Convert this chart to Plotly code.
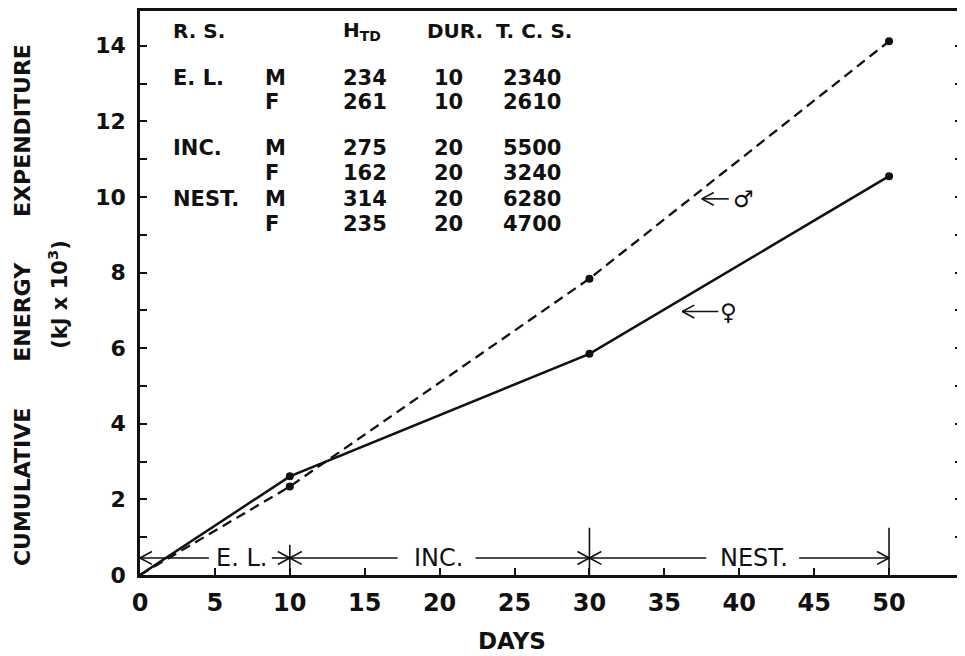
import plotly.graph_objects as go

# ---------------- data ----------------
days = [0, 10, 30, 50]
male_cum = [0, 2.34, 7.84, 14.12]      # kJ x 10^3
female_cum = [0, 2.61, 5.85, 10.55]

phase_bounds = [0, 10, 30, 50]
phase_labels = ["E. L.", "INC.", "NEST."]

table_header = ["R. S.", "", "H<sub>TD</sub>", "DUR.", "T. C. S."]
table_stage = ["E. L.", "", "INC.", "", "NEST.", ""]
table_sex = ["M", "F", "M", "F", "M", "F"]
table_htd = ["234", "261", "275", "162", "314", "235"]
table_dur = ["10", "10", "20", "20", "20", "20"]
table_tcs = ["2340", "2610", "5500", "3240", "6280", "4700"]

x_ticks = [0, 5, 10, 15, 20, 25, 30, 35, 40, 45, 50]
y_ticks = [0, 2, 4, 6, 8, 10, 12, 14]

# ---------------- layout constants ----------------
FONT = "DejaVu Sans"
BLACK = "#111111"
phase_y = 0.45
phase_label_x = [6.8, 19.9, 41.0]
phase_label_halfw = [1.9, 2.4, 2.9]
head_dx, head_dy = 0.8, 0.17

fig = go.Figure()

fig.add_trace(go.Scatter(x=days, y=male_cum, mode="lines",
                         line=dict(color=BLACK, width=2.3, dash="10px,6px"),
                         showlegend=False, hoverinfo="skip"))
fig.add_trace(go.Scatter(x=days, y=female_cum, mode="lines",
                         line=dict(color=BLACK, width=2.5),
                         showlegend=False, hoverinfo="skip"))
fig.add_trace(go.Scatter(x=days[1:] + days[1:], y=male_cum[1:] + female_cum[1:],
                         mode="markers", marker=dict(color=BLACK, size=8),
                         showlegend=False, hoverinfo="skip"))

# phase arrows
px, py = [], []
def seg(x0, x1):
    px.extend([x0, x1, None]); py.extend([phase_y, phase_y, None])
def head(xt, direction):
    xb = xt - direction * head_dx
    px.extend([xb, xt, xb, None]); py.extend([phase_y + head_dy, phase_y, phase_y - head_dy, None])

for i in range(len(phase_labels)):
    a, b = phase_bounds[i], phase_bounds[i + 1]
    lx, hw = phase_label_x[i], phase_label_halfw[i]
    seg(a, lx - hw - 0.3)
    head(a, -1)
    seg(lx + hw + 0.1, b)
    head(b, +1)
    fig.add_annotation(x=lx, y=phase_y, text=phase_labels[i], showarrow=False,
                       font=dict(family=FONT, size=24, color=BLACK), xref="x", yref="y")
fig.add_trace(go.Scatter(x=px, y=py, mode="lines", line=dict(color=BLACK, width=1.6),
                         showlegend=False, hoverinfo="skip"))
vx, vy = [], []
vx += [phase_bounds[1], phase_bounds[1], None]; vy += [0.1, 0.8, None]
for b in phase_bounds[2:]:
    vx += [b, b, None]; vy += [0, 1.25, None]
fig.add_trace(go.Scatter(x=vx, y=vy, mode="lines", line=dict(color=BLACK, width=1.6),
                         showlegend=False, hoverinfo="skip"))

# sex labels with arrows
sex_labels = [("♂", 37.5, 39.3, 40.3, 9.95), ("♀", 36.2, 38.6, 39.3, 6.97)]
sx, sy = [], []
for sym, xh, xe, xs, yy in sex_labels:
    sx += [xh, xe, None, xh + head_dx, xh, xh + head_dx, None]
    sy += [yy, yy, None, yy + head_dy, yy, yy - head_dy, None]
    fig.add_annotation(x=xs, y=yy, text=sym, showarrow=False,
                       font=dict(family=FONT, size=23, color=BLACK, weight="bold"))
fig.add_trace(go.Scatter(x=sx, y=sy, mode="lines", line=dict(color=BLACK, width=1.6),
                         showlegend=False, hoverinfo="skip"))

# table
col_x = [2.05, 8.2, 13.4, 19.0, 23.6]
num_x = [None, 8.2, 13.4, 19.5, 24.1]
row_y = [13.16, 12.5, 11.29, 10.63, 9.95, 9.29]
header_y = 14.39
tfont = dict(family=FONT, size=21, color=BLACK, weight="bold")
hfont = dict(family=FONT, size=20, color=BLACK, weight="bold")
for j, h in enumerate(table_header):
    if h:
        fig.add_annotation(x=col_x[j], y=header_y, text=h, showarrow=False,
                           xanchor="left", font=hfont)
for i in range(len(table_sex)):
    vals = [table_stage[i], table_sex[i], table_htd[i], table_dur[i], table_tcs[i]]
    for j, v in enumerate(vals):
        if v:
            xx = col_x[j] if j == 0 else num_x[j]
            fig.add_annotation(x=xx, y=row_y[i], text=v, showarrow=False,
                               xanchor="left", font=tfont)

# axis titles
fig.add_annotation(xref="paper", yref="paper", x=-0.142, y=0.479, xanchor="center", yanchor="middle",
                   text="CUMULATIVE      ENERGY      EXPENDITURE", textangle=-90,
                   showarrow=False, font=dict(family=FONT, size=22, color=BLACK, weight="bold"))
fig.add_annotation(xref="paper", yref="paper", x=-0.0996, y=0.497, xanchor="center", yanchor="middle",
                   text="(kJ x 10<sup>3</sup>)", textangle=-90,
                   showarrow=False, font=dict(family=FONT, size=21, color=BLACK, weight="bold"))
fig.add_annotation(xref="paper", yref="paper", x=0.452, y=-0.1164, yanchor="middle",
                   text="DAYS", showarrow=False,
                   font=dict(family=FONT, size=23, color=BLACK, weight="bold"))

fig.update_xaxes(range=[0, 54.87], tickvals=x_ticks, ticktext=[str(v) for v in x_ticks],
                 ticks="inside", ticklen=7, tickwidth=1.5, tickcolor=BLACK,
                 showline=True, linewidth=2.5, linecolor=BLACK, mirror=True,
                 showgrid=False, zeroline=False, ticklabelstandoff=4,
                 tickfont=dict(family=FONT, size=24, color=BLACK, weight="bold"))
fig.update_yaxes(range=[0, 14.92], tickvals=y_ticks, ticktext=[str(v) for v in y_ticks],
                 ticks="inside", ticklen=7, tickwidth=1.5, tickcolor=BLACK,
                 minor=dict(dtick=1, ticks="inside", ticklen=7, tickwidth=1.5, tickcolor=BLACK),
                 showline=True, linewidth=2.5, linecolor=BLACK, mirror="ticks",
                 showgrid=False, zeroline=False, ticklabelstandoff=7,
                 tickfont=dict(family=FONT, size=22, color=BLACK, weight="bold"))

fig.update_layout(width=957, height=648, margin=dict(l=132, r=2, t=0, b=81),
                  plot_bgcolor="white", paper_bgcolor="white", showlegend=False)

fig.write_html("out.html")
